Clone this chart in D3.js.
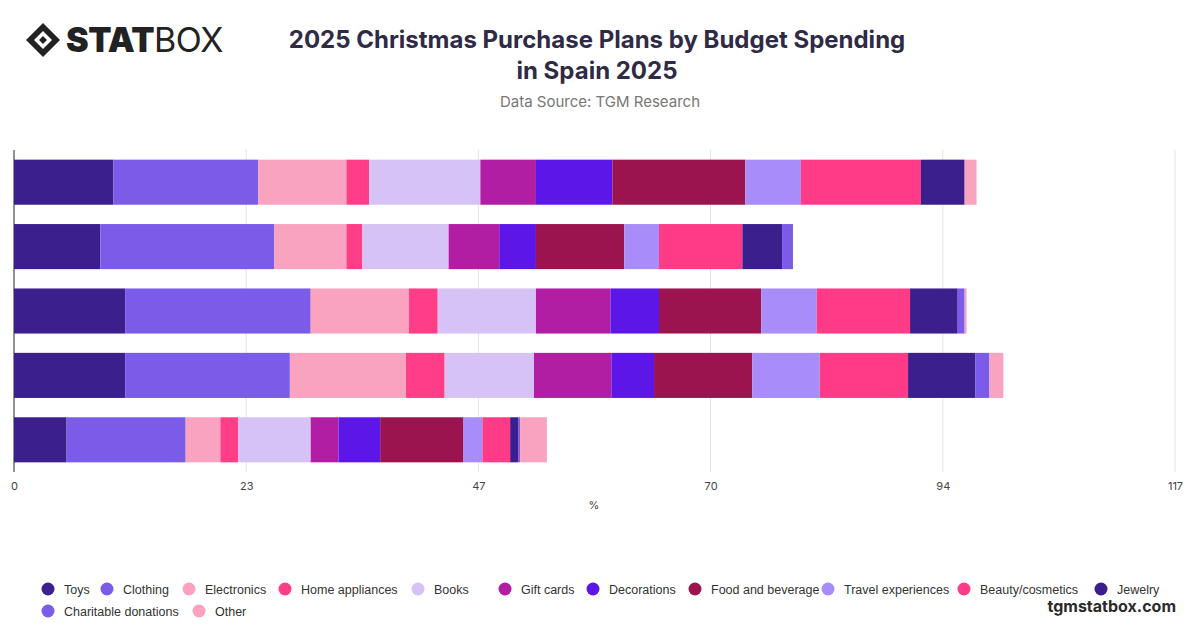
<!DOCTYPE html>
<html><head><meta charset="utf-8">
<script src="https://cdn.jsdelivr.net/npm/d3@7"></script>
<style>body{margin:0;background:#fff;font-family:Inter,"Noto Sans",sans-serif}</style>
</head><body><svg id="c" width="1200" height="628"></svg>
<script>
// categories (one row per bar, top to bottom), series in stacking order
const rows = ["r1", "r2", "r3", "r4", "r5"];
const seriesNames = ["Toys", "Clothing", "Electronics", "Home appliances", "Books", "Gift cards", "Decorations", "Food and beverage", "Travel experiences", "Beauty/cosmetics", "Jewelry", "Charitable donations", "Other"];
const toys = [10.0, 8.7, 11.2, 11.2, 5.3];
const clothing = [14.6, 17.5, 18.7, 16.6, 12.0];
const electronics = [8.9, 7.3, 9.9, 11.7, 3.5];
const homeAppliances = [2.3, 1.6, 2.9, 3.9, 1.8];
const books = [11.2, 8.7, 9.9, 9.0, 7.3];
const giftCards = [5.6, 5.1, 7.5, 7.8, 2.8];
const decorations = [7.7, 3.7, 4.9, 4.3, 4.2];
const food = [13.4, 8.9, 10.3, 9.9, 8.4];
const travel = [5.6, 3.5, 5.6, 6.8, 1.9];
const beauty = [12.1, 8.4, 9.4, 8.9, 2.8];
const jewelry = [4.4, 4.0, 4.8, 6.8, 0.8];
const charitable = [0, 1.1, 0.7, 1.4, 0.2];
const other = [1.2, 0, 0.2, 1.4, 2.7];
const tickValues = [0, 23.4, 46.8, 70.2, 93.6, 117];
const colors = ["#3b1f8c", "#7b5ce9", "#f9a3c0", "#ff3e87", "#d6c2f5", "#b21ea3", "#5d16e8", "#9b1450", "#a88cf7", "#ff3b88", "#3b1f8c", "#7b5ce9", "#f9a3c0"];

const seriesVals = [toys, clothing, electronics, homeAppliances, books, giftCards, decorations, food, travel, beauty, jewelry, charitable, other];
const table = rows.map((r, i) => {
  const o = {row: r};
  seriesNames.forEach((s, j) => o[s] = seriesVals[j][i]);
  return o;
});
const svg = d3.select("#c");
const x = d3.scaleLinear().domain([0, 117]).range([14, 1175]);
const y = d3.scaleBand().domain(rows).range([150, 472]).paddingInner(0.3).paddingOuter(0.15);

// grid
svg.append("g").selectAll("line").data(tickValues).join("line")
  .attr("x1", d => x(d)).attr("x2", d => x(d)).attr("y1", 150).attr("y2", 472)
  .attr("stroke", "#e3e3e3");
svg.append("line").attr("x1", 14).attr("x2", 14).attr("y1", 150).attr("y2", 472).attr("stroke", "#333");

const stack = d3.stack().keys(seriesNames)(table);
svg.append("g").selectAll("g").data(stack).join("g")
  .attr("fill", (d, i) => colors[i])
  .selectAll("rect").data(d => d).join("rect")
  .attr("x", d => x(d[0])).attr("width", d => x(d[1]) - x(d[0]))
  .attr("y", d => y(d.data.row)).attr("height", y.bandwidth());

const ax = svg.append("g").attr("transform", "translate(0,472)")
  .call(d3.axisBottom(x).tickValues(tickValues).tickFormat(d => Math.round(d)).tickSize(0).tickPadding(10));
ax.select(".domain").remove();
ax.selectAll("text").attr("font-size", 11).attr("fill", "#444").attr("font-family", "Inter,sans-serif");
svg.append("text").attr("x", 594).attr("y", 509).attr("text-anchor", "middle").attr("font-size", 11).attr("fill", "#444").text("%");

// titles
svg.append("text").attr("x", 597).attr("y", 48).attr("text-anchor", "middle").attr("font-size", 24).attr("font-weight", 700).attr("fill", "#2f2a45").text("2025 Christmas Purchase Plans by Budget Spending");
svg.append("text").attr("x", 597).attr("y", 79).attr("text-anchor", "middle").attr("font-size", 24).attr("font-weight", 700).attr("fill", "#2f2a45").text("in Spain 2025");
svg.append("text").attr("x", 600).attr("y", 107).attr("text-anchor", "middle").attr("font-size", 15).attr("fill", "#777").text("Data Source: TGM Research");

// logo
const lg = svg.append("g").attr("transform", "translate(26,40)");
lg.append("path").attr("d", "M0,0 L17,-17 L34,0 L17,17 Z").attr("fill", "#222");
lg.append("path").attr("d", "M8,0 L17,-9 L26,0 L17,9 Z").attr("fill", "#fff");
lg.append("path").attr("d", "M13,0 L17,-4 L21,0 L17,4 Z").attr("fill", "#222");
lg.append("text").attr("x", 40).attr("y", 12).attr("font-size", 34).attr("fill", "#222").attr("font-family", "Inter,sans-serif").attr("letter-spacing", -0.5)
  .html('<tspan font-weight="900">STAT</tspan><tspan font-weight="400">BOX</tspan>');

// legend
const legendPos = [[48,589],[107,589],[189,589],[285,589],[418,589],[505,589],[593,589],[695,589],[828,589],[964,589],[1101,589],[48,611],[199,611]];
const lgd = svg.append("g").selectAll("g").data(seriesNames).join("g")
  .attr("transform", (d, i) => `translate(${legendPos[i][0]},${legendPos[i][1]})`);
lgd.append("circle").attr("r", 6.5).attr("fill", (d, i) => colors[i]);
lgd.append("text").attr("x", 16).attr("y", 4.5).attr("font-size", 12.5).attr("font-family", "'Liberation Sans',Arial,sans-serif").attr("fill", "#333").text(d => d);
svg.append("text").attr("x", 1176).attr("y", 612).attr("text-anchor", "end").attr("font-size", 16).attr("font-weight", 700).attr("fill", "#2a2a2a").text("tgmstatbox.com");
</script></body></html>
